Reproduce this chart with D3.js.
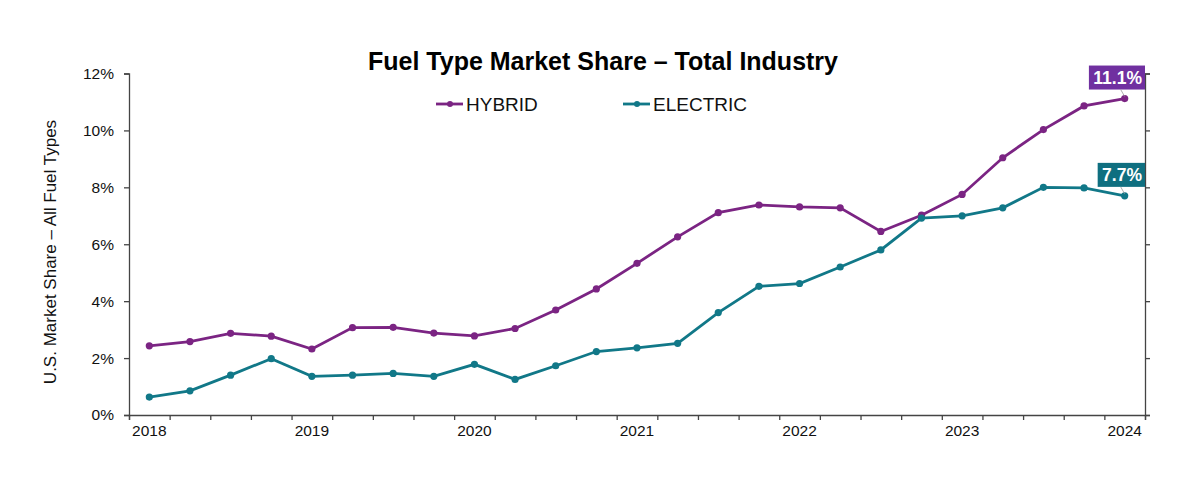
<!DOCTYPE html>
<html>
<head>
<meta charset="utf-8">
<script src="https://cdn.jsdelivr.net/npm/d3@7"></script>
<style>
  body { margin: 0; background: #fff; }
  text { font-family: "Liberation Sans", Arial, sans-serif; }
</style>
</head>
<body>
<svg id="chart" width="1200" height="504"></svg>
<script>
// quarterly, 2018 Q1 .. 2024 Q1
var quarters = d3.range(25).map(i => (2018 + Math.floor(i / 4)) + "Q" + (i % 4 + 1));
var yearLabels = ["2018", "2019", "2020", "2021", "2022", "2023", "2024"];
var hybrid = [2.43, 2.58, 2.87, 2.77, 2.32, 3.07, 3.08, 2.88, 2.78, 3.04, 3.69, 4.43, 5.33,
              6.26, 7.11, 7.38, 7.31, 7.28, 6.45, 7.02, 7.75, 9.04, 10.03, 10.86, 11.12];
var electric = [0.63, 0.85, 1.40, 1.98, 1.36, 1.40, 1.46, 1.36, 1.78, 1.25, 1.73, 2.23, 2.36,
                2.52, 3.60, 4.52, 4.62, 5.20, 5.80, 6.92, 7.00, 7.28, 8.00, 7.98, 7.70];
var yTicks = [0, 2, 4, 6, 8, 10, 12];

var series = [
    { name: "HYBRID", values: hybrid, color: "#7b2483", box: "#7030a0", label: "11.1%" },
    { name: "ELECTRIC", values: electric, color: "#117888", box: "#0f6f80", label: "7.7%" }
];

(function () {
var mLeft = 129, mRight = 1145, mTop = 73.5, mBottom = 415;

var svg = d3.select("#chart");

var x = d3.scaleBand().domain(quarters).range([mLeft, mRight]);
var xEdge = d3.scaleLinear().domain([0, quarters.length]).range([mLeft, mRight]);
var y = d3.scaleLinear().domain([0, 12]).range([mBottom, mTop]);

// title
svg.append("text")
    .attr("x", 603).attr("y", 70)
    .attr("text-anchor", "middle")
    .attr("font-size", 25).attr("font-weight", "bold")
    .text("Fuel Type Market Share \u2013 Total Industry");

// y axis left
var yAxis = svg.append("g")
    .attr("transform", `translate(${mLeft},0)`)
    .call(d3.axisLeft(y).tickValues(yTicks).tickSize(5).tickPadding(10).tickFormat(d => d + "%"));
yAxis.selectAll("text").attr("font-size", 15.5).attr("fill", "#111")
    .style("font-family", "Liberation Sans, Arial, sans-serif");

// right axis line
svg.append("g")
    .attr("transform", `translate(${mRight},0)`)
    .call(d3.axisLeft(y).tickValues(yTicks).tickSize(-5).tickFormat(""));

// x axis ticks at category edges
svg.append("g")
    .attr("transform", `translate(0,${mBottom})`)
    .call(d3.axisBottom(xEdge).tickValues(d3.range(quarters.length + 1)).tickSize(5).tickFormat(""));

// x labels
svg.append("g").selectAll("text")
    .data(yearLabels)
    .join("text")
    .attr("x", d => x(d + "Q1") + x.bandwidth() / 2)
    .attr("y", 436)
    .attr("text-anchor", "middle")
    .attr("font-size", 15.5).attr("fill", "#111")
    .text(d => d);

svg.selectAll(".domain, .tick line").attr("stroke", "#444").attr("stroke-width", 1.3);

// y axis title
svg.append("text")
    .attr("transform", "translate(56,252) rotate(-90)")
    .attr("text-anchor", "middle")
    .attr("font-size", 17).attr("fill", "#111")
    .text("U.S. Market Share \u2013 All Fuel Types");

// lines
var line = d3.line()
    .x((d, i) => x(quarters[i]) + x.bandwidth() / 2)
    .y(d => y(d));

series.forEach(s => {
    var g = svg.append("g");
    g.append("path")
        .attr("d", line(s.values))
        .attr("fill", "none")
        .attr("stroke", s.color)
        .attr("stroke-width", 2.8);
    g.selectAll("circle")
        .data(s.values)
        .join("circle")
        .attr("cx", (d, i) => x(quarters[i]) + x.bandwidth() / 2)
        .attr("cy", d => y(d))
        .attr("r", 3.6)
        .attr("fill", s.color);

    // end label
    var last = s.values.length - 1;
    var px = x(quarters[last]) + x.bandwidth() / 2, py = y(s.values[last]);
    var lab = svg.append("g");
    var t = lab.append("text")
        .attr("font-size", 17.5).attr("font-weight", "bold").attr("fill", "#fff")
        .attr("text-anchor", "end")
        .attr("x", mRight - 3).attr("y", py - 15)
        .text(s.label);
    var bb = t.node().getBBox();
    var bw = bb.width + 7, bh = 24;
    lab.insert("rect", "text")
        .attr("x", mRight - bw).attr("y", py - 9 - bh)
        .attr("width", bw).attr("height", bh)
        .attr("fill", s.box);
    lab.append("line")
        .attr("x1", px - 4).attr("y1", py - 9)
        .attr("x2", px).attr("y2", py - 2)
        .attr("stroke", "#999").attr("stroke-width", 0.8);
});

// legend
var legend = svg.append("g").selectAll("g")
    .data(series)
    .join("g")
    .attr("transform", (d, i) => `translate(${[436, 623][i]},104)`);
legend.append("line")
    .attr("x1", 0).attr("x2", 27)
    .attr("stroke", d => d.color).attr("stroke-width", 2.8);
legend.append("circle")
    .attr("cx", 14).attr("r", 3).attr("fill", d => d.color);
legend.append("text")
    .attr("x", 30).attr("y", 7)
    .attr("font-size", 19).attr("fill", "#111")
    .text(d => d.name);
})();
</script>
</body>
</html>
